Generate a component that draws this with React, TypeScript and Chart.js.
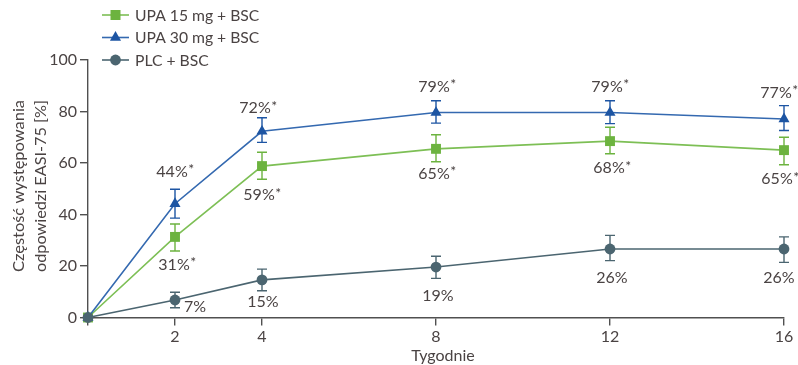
import React, { useEffect, useRef } from 'react';
import { Chart, registerables } from 'chart.js';

Chart.register(...registerables);

const weeks = [0, 2, 4, 8, 12, 16];
const xTickValues = [0, 2, 4, 8, 12, 16];

const seriesNames = ['UPA 15 mg + BSC', 'UPA 30 mg + BSC', 'PLC + BSC'];

const upa15 = [0, 31.3, 58.8, 65.5, 68.5, 65.0];
const upa15Lo = [0, 25.8, 53.7, 60.5, 63.6, 59.3];
const upa15Hi = [0, 36.3, 64.2, 71.0, 73.9, 70.0];
const upa15Labels = ['', '31%', '59%', '65%', '68%', '65%'];

const upa30 = [0, 44.2, 72.3, 79.6, 79.6, 77.1];
const upa30Lo = [0, 38.6, 68.0, 75.5, 75.3, 72.6];
const upa30Hi = [0, 49.8, 77.6, 84.2, 84.2, 82.3];
const upa30Labels = ['', '44%', '72%', '79%', '79%', '77%'];

const plc = [0, 6.8, 14.6, 19.6, 26.6, 26.6];
const plcLo = [0, 3.8, 10.4, 15.2, 22.1, 21.4];
const plcHi = [0, 9.8, 18.8, 23.8, 31.9, 31.3];
const plcLabels = ['', '7%', '15%', '19%', '26%', '26%'];

const yTitleLines = ['Częstość występowania', 'odpowiedzi EASI-75 [%]'];
const xTitle = 'Tygodnie';

const GREEN = '#6cb33f';
const GREEN_LINE = '#7dbf55';
const BLUE = '#1d55a3';
const BLUE_LINE = '#3469b0';
const GRAY = '#4b6570';
const TEXT = '#4a4343';
const AXIS = '#505050';
const FONT = 'Lato, "Open Sans", sans-serif';

// style: label offsets (px) relative to each point, and whether an asterisk follows
const styleCfg = [
  { color: GREEN, star: true, offsets: [[0, 0], [2, 28], [0, 29], [1, 25], [2, 27], [-4, 29]] },
  { color: BLUE, star: true, offsets: [[0, 0], [0, -32], [-4, -23], [1, -26], [0, -26], [-5, -26]] },
  { color: GRAY, star: false, offsets: [[0, 0], [20, 7], [1, 22], [2, 29], [2, 29], [-5, 29]] },
];

const errLo = [upa15Lo, upa30Lo, plcLo];
const errHi = [upa15Hi, upa30Hi, plcHi];
const labelTexts = [upa15Labels, upa30Labels, plcLabels];
const markerStyles = ['rect', 'triangle', 'circle'];

function drawMarker(ctx: CanvasRenderingContext2D, kind: string, x: number, y: number, color: string) {
  ctx.save();
  ctx.fillStyle = color;
  ctx.beginPath();
  if (kind === 'rect') {
    ctx.rect(x - 5, y - 5, 10, 10);
  } else if (kind === 'triangle') {
    const r = 6.4;
    ctx.moveTo(x, y - r);
    ctx.lineTo(x + r * 0.866, y + r * 0.5);
    ctx.lineTo(x - r * 0.866, y + r * 0.5);
    ctx.closePath();
  } else {
    ctx.arc(x, y, 5.4, 0, Math.PI * 2);
  }
  ctx.fill();
  ctx.restore();
}

const overlayPlugin = {
  id: 'overlay',
  beforeDatasetsDraw(chart: any) {
    const ctx: CanvasRenderingContext2D = chart.ctx;
    const xs = chart.scales.x;
    const ys = chart.scales.y;
    ctx.save();
    for (let s = 0; s < 3; s++) {
      ctx.strokeStyle = styleCfg[s].color;
      ctx.lineWidth = 1.4;
      for (let i = 0; i < weeks.length; i++) {
        if (errHi[s][i] === errLo[s][i]) continue;
        const px = xs.getPixelForValue(weeks[i]);
        const y1 = ys.getPixelForValue(errHi[s][i]);
        const y2 = ys.getPixelForValue(errLo[s][i]);
        ctx.beginPath();
        ctx.moveTo(px, y1);
        ctx.lineTo(px, y2);
        ctx.moveTo(px - 5, y1);
        ctx.lineTo(px + 5, y1);
        ctx.moveTo(px - 5, y2);
        ctx.lineTo(px + 5, y2);
        ctx.stroke();
      }
    }
    ctx.restore();
  },
  afterDraw(chart: any) {
    const ctx: CanvasRenderingContext2D = chart.ctx;
    const xs = chart.scales.x;
    const ys = chart.scales.y;
    const area = chart.chartArea;
    ctx.save();
    // data labels
    ctx.fillStyle = TEXT;
    ctx.textBaseline = 'middle';
    for (let s = 0; s < 3; s++) {
      for (let i = 0; i < weeks.length; i++) {
        const txt = labelTexts[s][i];
        if (!txt) continue;
        const px = xs.getPixelForValue(weeks[i]) + styleCfg[s].offsets[i][0];
        const py = ys.getPixelForValue(
          s === 2 ? plc[i] : s === 1 ? upa30[i] : upa15[i]
        ) + styleCfg[s].offsets[i][1];
        ctx.font = `16px ${FONT}`;
        const w1 = ctx.measureText(txt).width;
        let w2 = 0;
        if (styleCfg[s].star) {
          ctx.font = `14px ${FONT}`;
          w2 = ctx.measureText('*').width;
        }
        const left = px - (w1 + w2) / 2;
        ctx.textAlign = 'left';
        ctx.font = `16px ${FONT}`;
        ctx.fillText(txt, left, py);
        if (styleCfg[s].star) {
          ctx.font = `14px ${FONT}`;
          ctx.fillText('*', left + w1 + 0.5, py - 2);
        }
      }
    }
    // legend
    const rows = [15, 37.5, 60];
    for (let s = 0; s < 3; s++) {
      const y = rows[s];
      const lineColor = s === 0 ? GREEN_LINE : s === 1 ? BLUE_LINE : GRAY;
      ctx.strokeStyle = lineColor;
      ctx.lineWidth = 1.6;
      ctx.beginPath();
      ctx.moveTo(102, y);
      ctx.lineTo(129, y);
      ctx.stroke();
      drawMarker(ctx, markerStyles[s], 115.5, y, styleCfg[s].color);
      ctx.fillStyle = TEXT;
      ctx.font = `15.7px ${FONT}`;
      ctx.textAlign = 'left';
      ctx.textBaseline = 'middle';
      ctx.fillText(seriesNames[s], 135, y + 0.5);
    }
    // y title (stretched along its length to match the reference)
    ctx.font = `15.5px ${FONT}`;
    ctx.fillStyle = TEXT;
    ctx.textAlign = 'center';
    ctx.textBaseline = 'middle';
    const targetLen = 172;
    for (let k = 0; k < 2; k++) {
      const w = ctx.measureText(yTitleLines[k]).width;
      ctx.save();
      ctx.translate(k === 0 ? 19 : 41, 186);
      ctx.rotate(-Math.PI / 2);
      ctx.scale(targetLen / w, 1);
      ctx.fillText(yTitleLines[k], 0, 0);
      ctx.restore();
    }
    // x title
    ctx.textAlign = 'center';
    ctx.textBaseline = 'middle';
    ctx.font = `16px ${FONT}`;
    ctx.fillText(xTitle, (area.left + area.right) / 2 + 7, 356);
    ctx.restore();
  },
};

export default function App() {
  const ref = useRef<HTMLCanvasElement>(null);
  useEffect(() => {
    if (!ref.current) return;
    const mk = (data: number[], idx: number, lineColor: string, order: number) => ({
      label: seriesNames[idx],
      data: weeks.map((w, i) => ({ x: w, y: data[i] })),
      borderColor: lineColor,
      backgroundColor: styleCfg[idx].color,
      pointBackgroundColor: styleCfg[idx].color,
      pointBorderColor: styleCfg[idx].color,
      pointBorderWidth: 0,
      pointStyle: markerStyles[idx],
      pointRadius: idx === 0 ? 7 : idx === 1 ? 6.4 : 5.4,
      borderWidth: 1.6,
      tension: 0,
      clip: false,
      order,
    });
    const chart = new Chart(ref.current, {
      type: 'line',
      data: {
        datasets: [
          mk(upa15, 0, GREEN_LINE, 2),
          mk(upa30, 1, BLUE_LINE, 1),
          mk(plc, 2, GRAY, 0),
        ] as any,
      },
      options: {
        animation: false,
        responsive: false,
        maintainAspectRatio: false,
        layout: { padding: { left: 0, right: 14, top: 60, bottom: 0 } },
        plugins: { legend: { display: false }, tooltip: { enabled: false } },
        scales: {
          x: {
            type: 'linear',
            min: 0,
            max: 16,
            afterBuildTicks: (scale: any) => {
              scale.ticks = xTickValues.map((v) => ({ value: v }));
            },
            afterFit: (scale: any) => {
              scale.height = 47.5;
            },
            ticks: {
              autoSkip: false,
              maxRotation: 0,
              padding: 2,
              color: TEXT,
              font: { family: FONT, size: 16 },
              callback: (v: any) => (v === 0 ? '' : String(v)),
            },
            grid: { drawOnChartArea: false, drawTicks: true, tickLength: 8, color: AXIS, lineWidth: 1.4 },
            border: { display: true, color: AXIS, width: 1.4 },
          },
          y: {
            type: 'linear',
            min: 0,
            max: 100,
            afterFit: (scale: any) => {
              scale.width = 88;
            },
            ticks: {
              stepSize: 20,
              padding: 3,
              color: TEXT,
              font: { family: FONT, size: 16 },
            },
            grid: { drawOnChartArea: false, drawTicks: true, tickLength: 8, color: AXIS, lineWidth: 1.4 },
            border: { display: true, color: AXIS, width: 1.4 },
          },
        },
      },
      plugins: [overlayPlugin],
    });
    return () => chart.destroy();
  }, []);
  return (
    <div style={{ position: 'absolute', left: 0, top: 0, width: 798, height: 365, background: '#fff' }}>
      <canvas ref={ref} width={798} height={365} />
    </div>
  );
}
